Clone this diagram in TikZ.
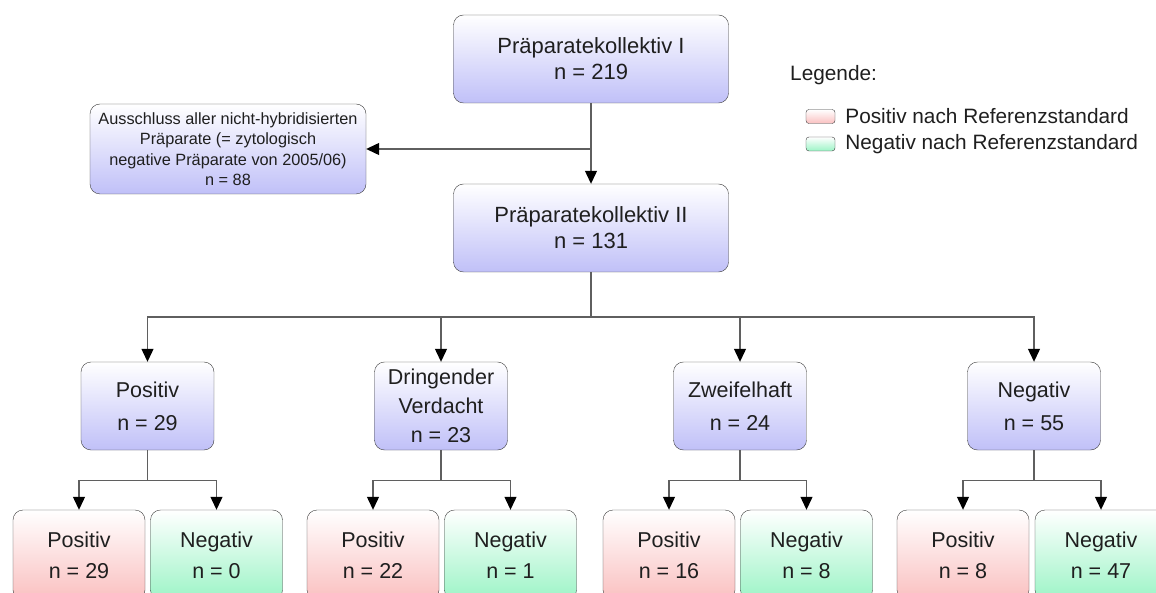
\documentclass[tikz,border=0pt]{standalone}
\usepackage{fontspec}
\setmainfont{Liberation Sans}
\usetikzlibrary{arrows.meta,positioning}
\definecolor{lila}{RGB}{192,192,248}
\definecolor{rosa}{RGB}{250,192,192}
\definecolor{mint}{RGB}{156,244,198}
\definecolor{rand}{RGB}{60,60,60}
\definecolor{linie}{RGB}{95,95,95}
\tikzset{
  kasten/.style={draw=rand, rounded corners=10pt, inner sep=0pt, align=center,
    text=black!88, top color=white},
  kollektiv/.style={kasten, bottom color=lila, minimum width=275pt, minimum height=88pt,
    font=\fontsize{22}{26}\selectfont},
  gruppe/.style={kasten, bottom color=lila, minimum width=133pt, minimum height=88pt,
    font=\fontsize{21.5}{33}\selectfont},
  dreizeilig/.style={font=\fontsize{21.5}{29}\selectfont},
  posbox/.style={kasten, bottom color=rosa, minimum width=132pt, minimum height=90pt,
    font=\fontsize{21.5}{31}\selectfont},
  negbox/.style={kasten, bottom color=mint, minimum width=132pt, minimum height=90pt,
    font=\fontsize{21.5}{31}\selectfont},
  ausschluss/.style={kasten, bottom color=lila, minimum width=276pt, minimum height=90pt,
    font=\fontsize{16.3}{20.5}\selectfont},
  swatch/.style={draw=rand, rounded corners=3pt, top color=white, minimum width=29pt,
    minimum height=14pt, inner sep=0pt},
  legtext/.style={font=\fontsize{20.8}{24}\selectfont, text=black!88, inner sep=0pt},
  linie/.style={draw=linie, line width=1.2pt},
  pfeil/.style={linie, -{Triangle[width=12pt,length=13pt,color=black]}}
}
\begin{document}
\begin{tikzpicture}[x=1pt,y=-1pt]
  \clip (0,0) rectangle (1156,593);
  \fill[white] (0,0) rectangle (1156,593);
  % Kollektive
  \node[kollektiv] (k1) at (591,59) {Präparatekollektiv I\\n = 219};
  \node[kollektiv] (k2) at (591,228) {Präparatekollektiv II\\n = 131};
  \node[ausschluss] (aus) at (228,149) {Ausschluss aller nicht-hybridisierten\\Präparate (= zytologisch\\negative Präparate von 2005/06)\\n = 88};
  % Legende
  \node[legtext, anchor=west] (leg) at (790,75) {Legende:};
  \node[swatch, bottom color=rosa] (lpos) at (820.5,116.5) {};
  \node[legtext, right=10pt of lpos] (lpostext) {Positiv nach Referenzstandard};
  \node[swatch, bottom color=mint] (lneg) at (820.5,144) {};
  \node[legtext, right=10pt of lneg] (lnegtext) {Negativ nach Referenzstandard};
  % zytologische Gruppen
  \node[gruppe] (g1) at (147.5,406) {Positiv\\n = 29};
  \node[gruppe, dreizeilig] (g2) at (441,406) {Dringender\\Verdacht\\n = 23};
  \node[gruppe] (g3) at (740,406) {Zweifelhaft\\n = 24};
  \node[gruppe] (g4) at (1034,406) {Negativ\\n = 55};
  % Referenzstandard
  \node[posbox] (p1) at (79,555) {Positiv\\n = 29};
  \node[negbox] (n1) at (216.5,555) {Negativ\\n = 0};
  \node[posbox] (p2) at (373,555) {Positiv\\n = 22};
  \node[negbox] (n2) at (510.5,555) {Negativ\\n = 1};
  \node[posbox] (p3) at (669,555) {Positiv\\n = 16};
  \node[negbox] (n3) at (806.5,555) {Negativ\\n = 8};
  \node[posbox] (p4) at (963,555) {Positiv\\n = 8};
  \node[negbox] (n4) at (1101,555) {Negativ\\n = 47};
  % Verbindungen
  \coordinate (abzw) at (591,149);
  \coordinate (verteiler) at (591,317);
  \draw[pfeil] (k1.south) -- (k2.north);
  \draw[pfeil] (abzw) -- (aus.east);
  \draw[linie] (k2.south) -- (verteiler);
  \foreach \g in {g1,g2,g3,g4}
    \draw[pfeil] (verteiler) -| (\g.north);
  \foreach \g/\p/\n in {g1/p1/n1,g2/p2/n2,g3/p3/n3,g4/p4/n4}{
    \draw[pfeil] (\g.south) -- ++(0,30) -| (\p.north);
    \draw[pfeil] (\g.south) -- ++(0,30) -| (\n.north);
  }
\end{tikzpicture}
\end{document}
